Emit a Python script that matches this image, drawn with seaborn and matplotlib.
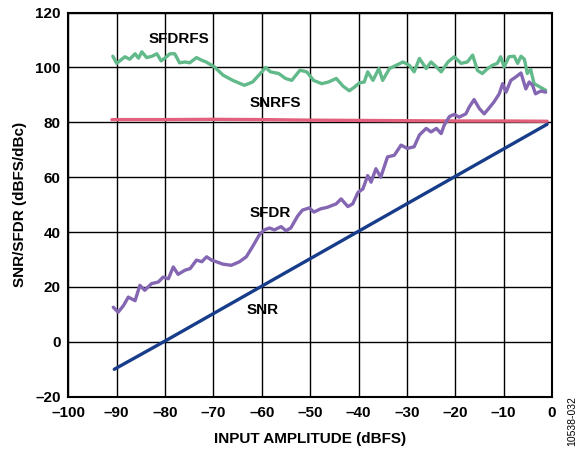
import numpy as np
import pandas as pd
import matplotlib
matplotlib.use("Agg")
import matplotlib.pyplot as plt
import seaborn as sns

# SFDRFS (green)
sfdrfs_x = [-90.8, -90.0, -88.3, -87.3, -86.2, -85.5, -84.8, -83.8, -82.7, -81.7, -80.8, -79.7,
            -79.0, -78.0, -77.0, -75.9, -74.9, -73.5, -72.5, -71.5, -69.8, -68.0, -66.0, -63.6,
            -61.9, -60.6, -59.2, -58.2, -56.5, -55.1, -53.8, -52.1, -50.7, -49.3, -47.6, -46.2,
            -44.6, -43.2, -41.9, -40.8, -39.8, -38.8, -38.1, -37.0, -35.8, -35.0, -33.6, -32.2,
            -30.8, -29.5, -28.5, -27.4, -26.0, -25.0, -23.9, -22.9, -21.5, -20.2, -18.8, -17.5,
            -16.4, -15.4, -14.4, -13.3, -12.3, -11.3, -10.6, -9.9, -8.9, -7.8, -7.1, -6.4,
            -5.7, -5.1, -4.4, -3.7, -2.7, -1.3]
sfdrfs_y = [104.1, 101.5, 103.9, 103.0, 105.0, 103.4, 105.7, 103.6, 104.1, 105.0, 102.4, 103.9,
            105.0, 105.0, 101.7, 102.0, 101.7, 103.6, 102.7, 102.0, 100.2, 97.2, 95.3, 93.5,
            94.7, 97.2, 100.0, 98.4, 97.8, 96.0, 95.3, 99.0, 98.4, 95.3, 94.1, 94.7,
            96.0, 93.2, 91.5, 92.9, 94.4, 94.7, 98.4, 95.3, 99.6, 95.3, 99.6, 100.8,
            102.0, 100.8, 98.4, 103.3, 99.6, 102.0, 100.2, 98.4, 102.0, 103.9, 101.5, 102.0,
            104.5, 98.9, 97.8, 99.6, 100.8, 101.5, 103.9, 100.2, 103.9, 104.1, 101.5, 104.1,
            103.0, 97.8, 99.3, 94.1, 93.1, 91.7]

# SNRFS (red)
snrfs_x = [-91, -80, -70, -60, -50, -40, -30, -20, -10, -1]
snrfs_y = [81.0, 81.0, 81.1, 81.0, 80.8, 80.7, 80.6, 80.5, 80.5, 80.4]

# SFDR (purple)
sfdr_x = [-90.7, -89.7, -88.6, -87.6, -86.2, -85.2, -84.2, -82.8, -81.4, -80.4, -79.3, -78.3,
          -77.3, -75.9, -74.8, -73.5, -72.4, -71.4, -70.4, -69.4, -68.0, -66.3, -64.6, -63.2,
          -61.9, -60.5, -59.5, -58.4, -57.4, -56.0, -55.0, -54.0, -52.6, -51.6, -50.2, -49.2,
          -47.8, -46.5, -44.6, -43.6, -42.2, -41.2, -40.1, -39.1, -38.1, -37.4, -36.4, -35.4,
          -34.0, -32.6, -31.2, -29.9, -28.5, -27.4, -26.0, -25.0, -23.9, -22.9, -22.3, -21.2,
          -20.2, -19.2, -17.8, -17.1, -16.1, -15.0, -14.0, -13.1, -12.0, -10.9, -10.2, -9.5,
          -8.5, -7.5, -6.4, -5.4, -4.7, -4.0, -3.4, -2.3, -1.3]
sfdr_y = [12.6, 10.8, 13.2, 16.3, 15.0, 20.6, 18.8, 21.2, 21.8, 23.6, 23.0, 27.3,
          24.6, 26.1, 26.7, 29.8, 29.2, 31.0, 29.8, 29.2, 28.3, 27.9, 29.2, 31.0,
          34.7, 39.0, 40.8, 41.5, 40.8, 42.0, 40.5, 41.5, 45.8, 48.0, 48.8, 47.3,
          48.5, 49.0, 50.3, 52.1, 49.3, 50.3, 54.5, 55.7, 60.6, 58.2, 63.1, 60.0,
          67.4, 68.0, 71.7, 70.5, 71.1, 75.4, 77.8, 76.5, 77.8, 75.9, 78.9, 82.1,
          82.9, 81.9, 83.1, 85.6, 88.3, 85.0, 83.1, 85.0, 87.4, 90.4, 94.1, 91.0,
          95.3, 96.5, 98.0, 92.2, 94.7, 93.5, 90.4, 91.4, 91.0]

# SNR (blue)
snr_x = [-90.5, -80, -70, -60, -50, -40, -30, -20, -10, -1]
snr_y = [-10.0, 0.3, 10.3, 20.3, 30.3, 40.3, 50.3, 60.3, 70.3, 79.3]

x_ticks = list(range(-100, 1, 10))
y_ticks = list(range(-20, 121, 20))

sns.set_style("white")
plt.rcParams['font.family'] = ['Liberation Sans', 'DejaVu Sans']
plt.rcParams['text.color'] = 'black'
plt.rcParams['axes.labelcolor'] = 'black'
plt.rcParams['xtick.color'] = 'black'
plt.rcParams['ytick.color'] = 'black'

fig, ax = plt.subplots(figsize=(5.81, 4.5), dpi=100)
fig.subplots_adjust(left=0.1176, right=0.950, top=0.972, bottom=0.1184)

series = [
    (sfdrfs_x, sfdrfs_y, "#62b98a"),
    (snrfs_x, snrfs_y, "#e2607c"),
    (sfdr_x, sfdr_y, "#8466b3"),
    (snr_x, snr_y, "#173c8a"),
]
for xs, ys, col in series:
    sns.lineplot(x=xs, y=ys, ax=ax, color=col, linewidth=2.4, sort=False)

ax.set_xlim(-100, 0)
ax.set_ylim(-20, 120)
ax.set_xticks(x_ticks)
ax.set_yticks(y_ticks)
ax.set_xticklabels([str(t).replace("-", "\u2013") for t in x_ticks], fontweight="bold", fontsize=11)
ax.set_yticklabels([str(t).replace("-", "\u2013") for t in y_ticks], fontweight="bold", fontsize=11)
ax.tick_params(axis="x", length=0, pad=7)
ax.tick_params(axis="y", length=0, pad=5.5)
ax.grid(True, color="black", linewidth=1.0)
ax.set_axisbelow(True)
for s in ax.spines.values():
    s.set_color("black")
    s.set_linewidth(1.5)

ax.set_xlabel("INPUT AMPLITUDE (dBFS)", fontweight="bold", fontsize=11, labelpad=8)
ax.set_ylabel("SNR/SFDR (dBFS/dBc)", fontweight="bold", fontsize=11, labelpad=6)

lbl = dict(fontweight="bold", fontsize=11, ha="center", va="center")
ax.text(-77.2, 110.5, "SFDRFS", **lbl)
ax.text(-57.2, 86.9, "SNRFS", **lbl)
ax.text(-58.2, 47.0, "SFDR", **lbl)
ax.text(-59.9, 11.5, "SNR", **lbl)

fig.text(0.984, 0.065, "10538-032", rotation=90, fontsize=7.5, ha="center", va="center")

fig.savefig("out.png", dpi=100)
